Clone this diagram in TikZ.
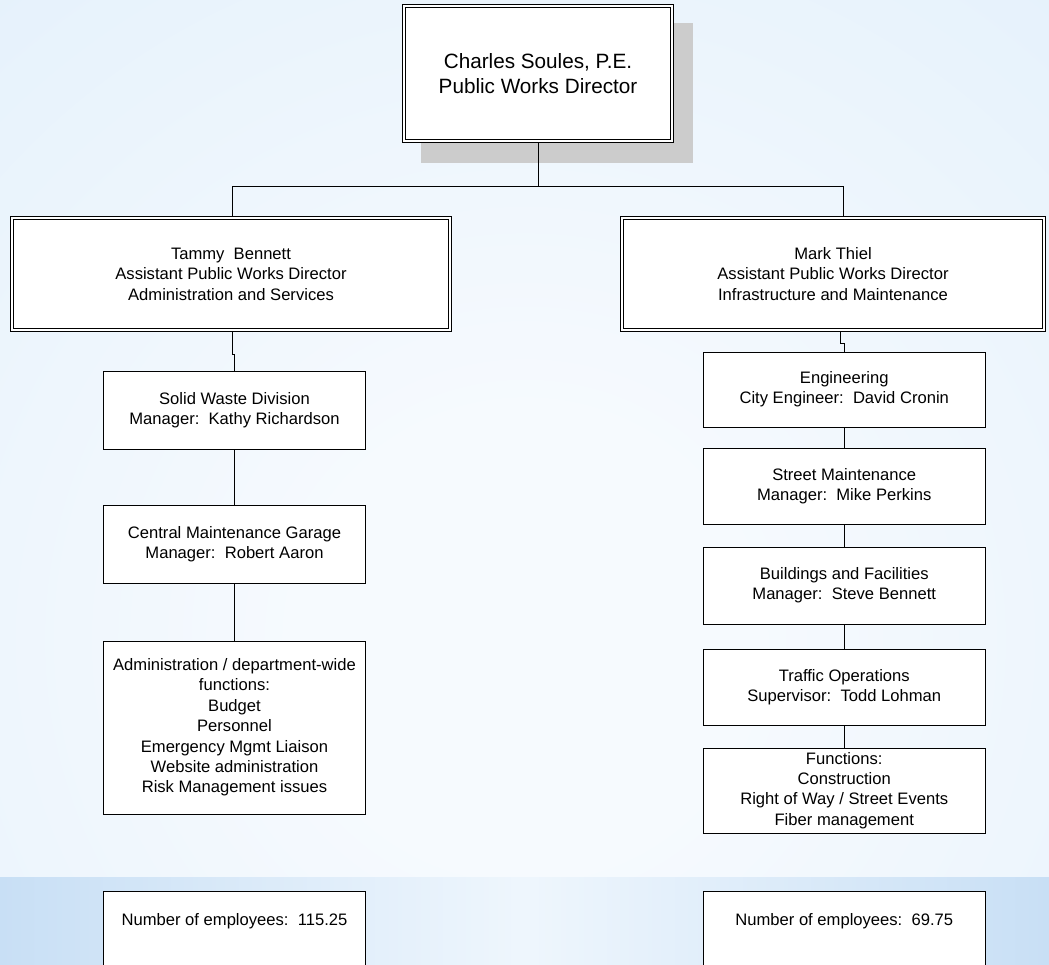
\documentclass[tikz,border=0pt]{standalone}
\usepackage{fontspec}
\setmainfont{Liberation Sans}
\definecolor{bgin}{HTML}{F6FAFE}
\definecolor{bgout}{HTML}{DDEDFA}
\definecolor{bgfar}{HTML}{D3E6F8}
\definecolor{bgedge}{HTML}{C8DFF5}
\definecolor{shadowgray}{HTML}{CCCCCC}
\pgfdeclareradialshading{bgglow}{\pgfpoint{0bp}{0bp}}{color(0bp)=(bgin); color(8bp)=(bgin); color(42bp)=(bgout); color(75bp)=(bgfar)}
\begin{document}
\begin{tikzpicture}[x=1pt, y=-1pt,
  box/.style={draw, fill=white, line width=0.9pt, inner sep=0pt, align=center, font=\fontsize{16.6}{20.4}\selectfont},
  dbox/.style={box, double=white, double distance=2pt, line width=0.8pt},
  link/.style={line width=0.9pt}]
\useasboundingbox (0,0) rectangle (1049,965);
% background
\begin{scope}
\clip (0,0) rectangle (1049,965);
\shade[shading=bgglow] (-175,-60) rectangle (1225,1340);
\shade[left color=bgedge, right color=bgedge, middle color=bgin!70!bgout] (0,877) rectangle (1049,965);
\end{scope}
\fill[shadowgray] (421,23) rectangle (693,163);
% director and assistants
\node[dbox, minimum width=268pt, minimum height=135pt, font=\fontsize{20.7}{25}\selectfont] (dir) at (538,73.5) {Charles Soules, P.E.\\Public Works Director};
\node[dbox, minimum width=438pt, minimum height=112pt] (tammy) at (231,274) {Tammy\ \ Bennett\\Assistant Public Works Director\\Administration and Services};
\node[dbox, minimum width=422pt, minimum height=112pt] (mark) at (833,274) {Mark Thiel\\Assistant Public Works Director\\Infrastructure and Maintenance};
% left column
\node[box, minimum width=262pt, minimum height=78pt] (waste) at (234.5,410) {Solid Waste Division\\Manager:\ \ Kathy Richardson};
\node[box, minimum width=262pt, minimum height=78pt] (garage) at (234.5,544) {Central Maintenance Garage\\Manager:\ \ Robert Aaron};
\node[box, minimum width=262pt, minimum height=173pt] (admin) at (234.5,727.5) {Administration / department-wide\\functions:\\Budget\\Personnel\\Emergency Mgmt Liaison\\Website administration\\Risk Management issues};
\node[box, anchor=north, minimum width=262.5pt, text height=34pt, text depth=80pt] (countl) at (234.5,891) {Number of employees:\ \ 115.25};
% right column
\node[box, minimum width=281.5pt, minimum height=75pt] (eng) at (844.25,389.5) {Engineering\\City Engineer:\ \ David Cronin};
\node[box, minimum width=281.5pt, minimum height=76pt] (street) at (844.25,486) {Street Maintenance\\Manager:\ \ Mike Perkins};
\node[box, minimum width=281.5pt, minimum height=77pt] (bldg) at (844.25,585.5) {Buildings and Facilities\\Manager:\ \ Steve Bennett};
\node[box, minimum width=281.5pt, minimum height=76pt] (traffic) at (844.25,687) {Traffic Operations\\Supervisor:\ \ Todd Lohman};
\node[box, minimum width=281.5pt, minimum height=85pt] (func) at (844.25,790.5) {Functions:\\Construction\\Right of Way / Street Events\\Fiber management};
\node[box, anchor=north, minimum width=281.5pt, text height=34pt, text depth=80pt] (countr) at (844.25,891) {Number of employees:\ \ 69.75};
% connectors
\draw[link, shorten <=1.9pt, shorten >=1.9pt] (dir.south) -- ++(0,45) -| ([xshift=1pt]tammy.north);
\draw[link, shorten <=1.9pt, shorten >=1.9pt] (dir.south) -- ++(0,45) -| ([xshift=10pt]mark.north);
\draw[link, shorten <=1.9pt] ([xshift=1pt]tammy.south) -- ++(0,24) -| (waste.north);
\draw[link] (waste) -- (garage);
\draw[link] (garage) -- (admin);
\draw[link, shorten <=1.9pt] ([xshift=7pt]mark.south) -- ++(0,13) -| (eng.north);
\draw[link] (eng) -- (street);
\draw[link] (street) -- (bldg);
\draw[link] (bldg) -- (traffic);
\draw[link] (traffic) -- (func);
\end{tikzpicture}
\end{document}
